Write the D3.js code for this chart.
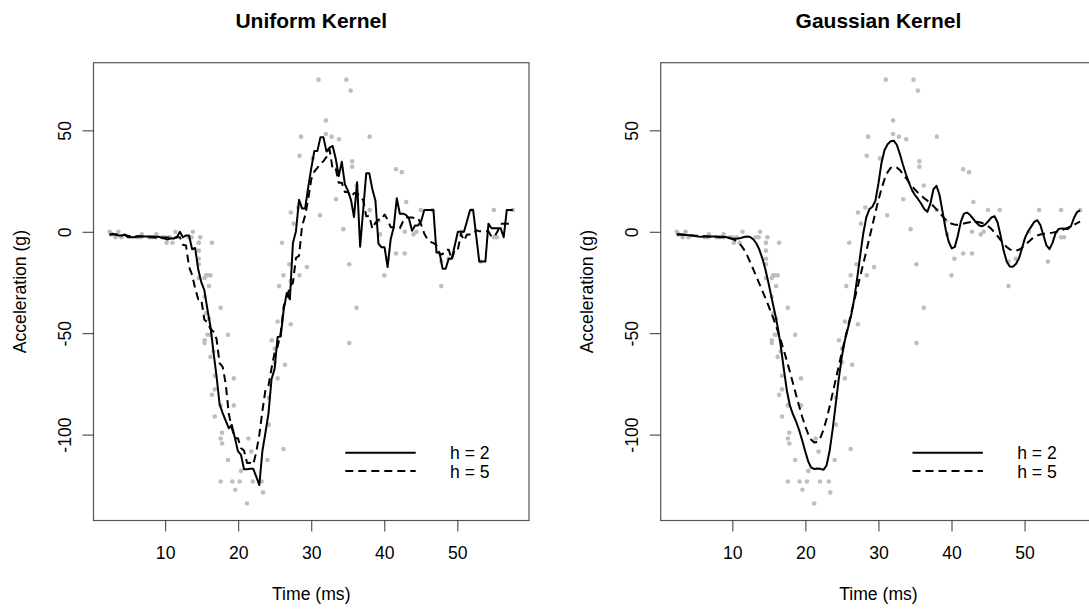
<!DOCTYPE html>
<html>
<head>
<meta charset="utf-8">
<script src="https://cdn.jsdelivr.net/npm/d3@7/dist/d3.min.js"></script>
<style>
  body { margin: 0; background: #fff; }
  text { font-family: "Liberation Sans", Arial, Helvetica, sans-serif; fill: #000; }
</style>
</head>
<body>
<div id="chart"></div>
<script>
'use strict';

// mcycle data: time after impact (ms) and head acceleration (g)
var times = [2.4, 2.6, 3.2, 3.6, 4.0, 6.2, 6.6, 6.8, 7.8, 8.2, 8.8, 8.8, 9.6, 10.0, 10.2, 10.6, 11.0, 11.4,
  13.2, 13.6, 13.8, 14.6, 14.6, 14.6, 14.6, 14.6, 14.6, 14.8, 15.4, 15.4, 15.4, 15.4, 15.6, 15.6, 15.8, 15.8,
  16.0, 16.0, 16.2, 16.2, 16.2, 16.4, 16.4, 16.6, 16.8, 16.8, 16.8, 17.6, 17.6, 17.6, 17.6, 17.8, 17.8, 18.6,
  18.6, 19.2, 19.4, 19.4, 19.6, 20.2, 20.4, 21.2, 21.4, 21.8, 22.0, 23.2, 23.4, 24.0, 24.2, 24.2, 24.6, 25.0,
  25.0, 25.4, 25.4, 25.6, 26.0, 26.2, 26.2, 26.4, 27.0, 27.2, 27.2, 27.2, 27.6, 28.2, 28.4, 28.4, 28.6, 29.4,
  30.2, 31.0, 31.2, 32.0, 32.0, 32.8, 33.4, 33.8, 34.4, 34.8, 35.2, 35.2, 35.4, 35.6, 35.6, 36.2, 36.2, 38.0,
  38.0, 39.2, 39.4, 40.0, 40.4, 41.6, 41.6, 42.4, 42.8, 42.8, 43.0, 44.0, 44.4, 45.0, 46.6, 47.8, 47.8, 48.8,
  50.6, 52.0, 53.2, 55.0, 55.0, 55.4, 57.6];
var accel = [0.0, -1.3, -2.7, 0.0, -2.7, -2.7, -2.7, -1.3, -2.7, -2.7, -1.3, -2.7, -2.7, -2.7, -5.4, -2.7, -5.4,
  0.0, -2.7, -2.7, 0.0, -13.3, -5.4, -5.4, -9.3, -16.0, -22.8, -2.7, -22.8, -32.1, -53.5, -54.9, -40.2, -21.5,
  -21.5, -50.8, -42.9, -26.8, -21.5, -50.8, -61.7, -5.4, -80.4, -59.0, -71.0, -91.1, -77.7, -37.5, -85.6,
  -123.1, -101.9, -99.1, -104.4, -112.5, -50.8, -123.1, -85.6, -72.3, -127.2, -123.1, -117.9, -134.0, -101.9,
  -108.4, -123.1, -123.1, -128.5, -112.5, -95.1, -81.8, -53.5, -64.4, -57.6, -72.3, -44.3, -26.8, -5.4,
  -107.1, -21.5, -65.6, -16.0, -45.6, -24.2, 9.5, 4.0, 12.0, -21.5, 37.5, 46.9, -17.4, 36.2, 75.0, 8.1, 54.9,
  48.2, 46.9, 16.0, 45.6, 1.3, 75.0, -16.0, -54.9, 69.6, 34.8, 32.1, -37.5, 22.8, 46.9, 10.7, 5.4, -1.3,
  -21.5, -13.3, 30.8, -10.7, 29.4, 0.0, -10.7, 14.7, -1.3, 0.0, 10.7, 10.7, -26.8, -14.7, -13.3, 0.0, 10.7,
  -14.7, -2.7, 10.7, -2.7, 10.7];

var panelTitles = ["Uniform Kernel", "Gaussian Kernel"];
var kernels = ["box", "normal"];
var bandwidths = [2, 5];
var legendLabels = ["h = 2", "h = 5"];
var xTicks = [10, 20, 30, 40, 50];
var yTicks = [50, 0, -50, -100];

var width = 1089, height = 611;
var boxTop = 62.7, boxBottom = 520.5;
var boxLefts = [93.5, 660.7], boxWidth = 435.5;

// Nadaraya-Watson kernel smoother, same scheme as R's ksmooth()
function ksmooth(x, y, kern, bw) {
  var n = x.length, np = Math.max(100, n);
  var lo = d3.min(x), hi = d3.max(x);
  var bw2 = bw, cutoff;
  if (kern === 'box') { bw2 *= 0.5; cutoff = bw2; }
  else { bw2 *= 0.3706506; cutoff = 4 * bw2; }
  var out = [];
  for (var j = 0; j < np; j++) {
    var x0 = lo + (hi - lo) * j / (np - 1);
    var num = 0, den = 0;
    for (var i = 0; i < n; i++) {
      if (x[i] < x0 - cutoff || x[i] > x0 + cutoff) continue;
      var u = Math.abs(x[i] - x0) / bw2;
      var w = kern === 'box' ? 1 : Math.exp(-0.5 * u * u);
      num += w * y[i];
      den += w;
    }
    out.push({ x: x0, y: den > 0 ? num / den : null });
  }
  return out;
}

var svg = d3.select('#chart').append('svg')
  .attr('width', width)
  .attr('height', height);

function pad(ext) {
  var d = (ext[1] - ext[0]) * 0.04;
  return [ext[0] - d, ext[1] + d];
}

var xDomain = pad(d3.extent(times));
var yDomain = pad(d3.extent(accel));

var dashes = [null, '8,5'];

panelTitles.forEach(function (title, p) {
  var left = boxLefts[p];
  var x = d3.scaleLinear().domain(xDomain).range([left, left + boxWidth]);
  var y = d3.scaleLinear().domain(yDomain).range([boxBottom, boxTop]);
  var g = svg.append('g');

  // points
  g.selectAll('circle')
    .data(times)
    .enter()
    .append('circle')
    .attr('cx', d => x(d))
    .attr('cy', (d, i) => y(accel[i]))
    .attr('r', 2.3)
    .style('fill', '#bebebe');

  // smoothers
  var line = d3.line()
    .defined(d => d.y !== null)
    .x(d => x(d.x))
    .y(d => y(d.y));

  bandwidths.forEach(function (h, k) {
    g.append('path')
      .datum(ksmooth(times, accel, kernels[p], h))
      .attr('d', line)
      .style('fill', 'none')
      .style('stroke', '#000')
      .style('stroke-width', 2)
      .style('stroke-linejoin', 'round')
      .style('stroke-dasharray', dashes[k]);
  });

  // box
  g.append('rect')
    .attr('x', left)
    .attr('y', boxTop)
    .attr('width', boxWidth)
    .attr('height', boxBottom - boxTop)
    .style('fill', 'none')
    .style('stroke', '#555')
    .style('stroke-width', 1.2);

  // axes
  var xAxis = g.append('g')
    .attr('transform', 'translate(0,' + boxBottom + ')')
    .call(d3.axisBottom(x).tickValues(xTicks).tickSize(11).tickPadding(15).tickFormat(d => String(d)));
  xAxis.select('.domain').remove();
  xAxis.selectAll('line').style('stroke', '#333');
  xAxis.selectAll('text').style('font-size', '17.6px').style('font-family', null);

  var yAxis = g.append('g')
    .attr('transform', 'translate(' + left + ',0)')
    .call(d3.axisLeft(y).tickValues(yTicks).tickSize(11).tickFormat(d => String(d)));
  yAxis.select('.domain').remove();
  yAxis.selectAll('line').style('stroke', '#333');
  yAxis.selectAll('text')
    .attr('x', null)
    .attr('dy', null)
    .attr('transform', 'translate(-23,0) rotate(-90)')
    .attr('text-anchor', 'middle')
    .style('font-size', '17.6px')
    .style('font-family', null);

  // labels
  var cx = left + boxWidth / 2;
  g.append('text')
    .attr('x', cx)
    .attr('y', 28)
    .attr('text-anchor', 'middle')
    .style('font-size', '21px')
    .style('font-weight', 'bold')
    .text(title);

  g.append('text')
    .attr('x', cx)
    .attr('y', 600)
    .attr('text-anchor', 'middle')
    .style('font-size', '17.6px')
    .text('Time (ms)');

  g.append('text')
    .attr('transform', 'translate(' + (left - 67.5) + ',' + ((boxTop + boxBottom) / 2) + ') rotate(-90)')
    .attr('text-anchor', 'middle')
    .style('font-size', '17.6px')
    .text('Acceleration (g)');

  // legend
  legendLabels.forEach(function (lab, k) {
    var ly = 452.7 + k * 18.3;
    g.append('line')
      .attr('x1', left + 251.8)
      .attr('x2', left + 322.2)
      .attr('y1', ly)
      .attr('y2', ly)
      .style('stroke', '#000')
      .style('stroke-width', 2)
      .style('stroke-dasharray', dashes[k]);
    g.append('text')
      .attr('x', left + 356.5)
      .attr('y', ly + 6.5)
      .style('font-size', '17.6px')
      .text(lab);
  });
});
</script>
</body>
</html>
